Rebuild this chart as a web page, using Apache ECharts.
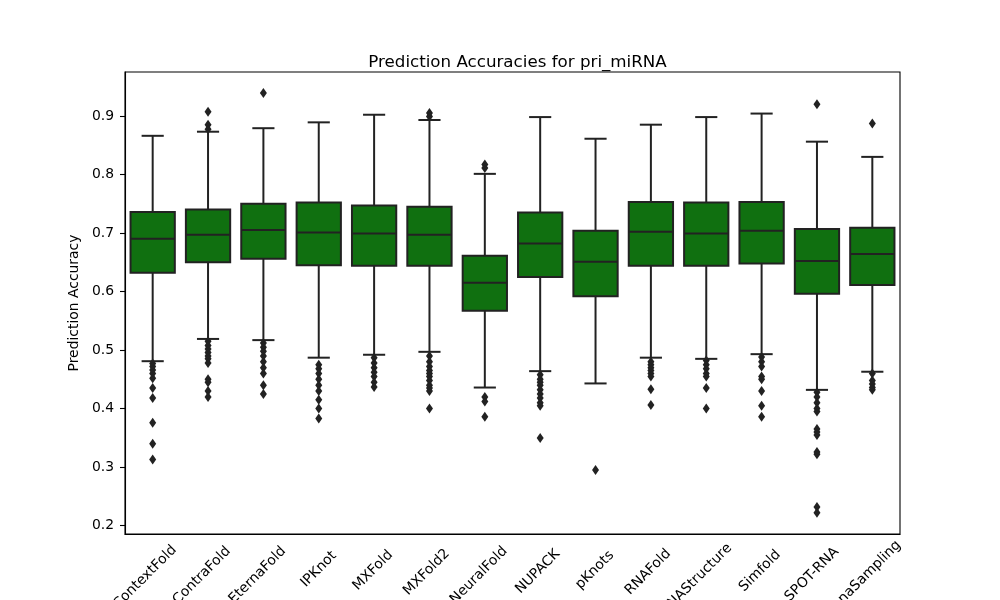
<!DOCTYPE html>
<html lang="en">
<head>
<meta charset="UTF-8">
<title>Prediction Accuracies for pri_miRNA</title>
</head>
<body style="height: 100%; margin: 0">
<div id="container" style="width:1000px;height:600px"></div>
<script src="https://cdn.jsdelivr.net/npm/echarts@6/dist/echarts.min.js"></script>
<script type="text/javascript">
    // data
    var categories = ['ContextFold', 'ContraFold', 'EternaFold', 'IPKnot', 'MXFold', 'MXFold2', 'NeuralFold',
        'NUPACK', 'pKnots', 'RNAFold', 'RNAStructure', 'Simfold', 'SPOT-RNA', 'ViennaSampling'];
    var whiskerLow  = [0.481, 0.519, 0.517, 0.487, 0.492, 0.497, 0.436, 0.464, 0.443, 0.487, 0.485, 0.493, 0.432, 0.463];
    var q1          = [0.632, 0.650, 0.656, 0.645, 0.644, 0.644, 0.567, 0.625, 0.592, 0.644, 0.644, 0.648, 0.596, 0.611];
    var median      = [0.690, 0.697, 0.705, 0.701, 0.699, 0.697, 0.615, 0.682, 0.651, 0.702, 0.699, 0.704, 0.652, 0.664];
    var q3          = [0.736, 0.740, 0.750, 0.752, 0.747, 0.745, 0.661, 0.735, 0.704, 0.753, 0.752, 0.753, 0.707, 0.709];
    var whiskerHigh = [0.866, 0.873, 0.879, 0.889, 0.902, 0.893, 0.801, 0.898, 0.861, 0.885, 0.898, 0.904, 0.856, 0.830];
    var outliers = [
        [0.477, 0.472, 0.466, 0.46, 0.452, 0.435, 0.418, 0.376, 0.34, 0.313],
        [0.907, 0.885, 0.877, 0.515, 0.508, 0.502, 0.496, 0.49, 0.485, 0.478, 0.45, 0.445, 0.43, 0.42],
        [0.939, 0.512, 0.505, 0.498, 0.49, 0.48, 0.47, 0.46, 0.44, 0.425],
        [0.475, 0.468, 0.46, 0.45, 0.44, 0.43, 0.415, 0.40, 0.383],
        [0.487, 0.478, 0.47, 0.462, 0.455, 0.445, 0.437],
        [0.905, 0.899, 0.49, 0.48, 0.472, 0.465, 0.46, 0.455, 0.448, 0.44, 0.435, 0.43, 0.4],
        [0.817, 0.811, 0.42, 0.412, 0.386],
        [0.458, 0.45, 0.445, 0.44, 0.432, 0.425, 0.418, 0.41, 0.405, 0.35],
        [0.295],
        [0.48, 0.475, 0.47, 0.465, 0.46, 0.455, 0.433, 0.406],
        [0.482, 0.475, 0.468, 0.46, 0.455, 0.435, 0.40],
        [0.488, 0.48, 0.472, 0.455, 0.45, 0.43, 0.405, 0.386],
        [0.92, 0.428, 0.42, 0.41, 0.40, 0.395, 0.365, 0.36, 0.355, 0.326, 0.322, 0.232, 0.222],
        [0.887, 0.46, 0.448, 0.442, 0.436, 0.432]
    ];
    var yTicks = [0.2, 0.3, 0.4, 0.5, 0.6, 0.7, 0.8, 0.9];

    var font = 'DejaVu Sans';
    var fs = 13.9;

    // matplotlib centres rotated tick labels on the tick with their tops aligned;
    // shift each label down with padding so the tops line up the same way
    var ctx = document.createElement('canvas').getContext('2d');
    ctx.font = fs + 'px "' + font + '"';
    var widths = categories.map(function (c) { return ctx.measureText(c).width; });
    var minW = Math.min.apply(null, widths);
    var labelMargin = 14 + (minW + 16) * 0.354;
    var xData = categories.map(function (c, i) {
        var p = (widths[i] - minW) * 0.56;
        return {
            value: c,
            textStyle: {
                align: 'center', verticalAlign: 'middle', padding: [p, p, 0, 0],
                color: '#000', fontSize: fs, fontFamily: font
            }
        };
    });

    var boxData = categories.map(function (c, i) {
        return [i, whiskerLow[i], q1[i], median[i], q3[i], whiskerHigh[i]];
    });
    var flierData = [];
    outliers.forEach(function (list, i) {
        list.forEach(function (v) { flierData.push([i, v]); });
    });

    var lineColor = '#222222';
    var boxColor = '#107010';

    function renderBox(params, api) {
        var i = api.value(0);
        var bw = api.size([1, 0])[0];
        var half = bw * 0.4, capHalf = bw * 0.2;
        var lo = api.coord([i, api.value(1)]);
        var b1 = api.coord([i, api.value(2)]);
        var md = api.coord([i, api.value(3)]);
        var b3 = api.coord([i, api.value(4)]);
        var hi = api.coord([i, api.value(5)]);
        var x = md[0];
        var st = { stroke: lineColor, lineWidth: 2, fill: null };
        return {
            type: 'group',
            children: [
                { type: 'line', shape: { x1: x, y1: hi[1], x2: x, y2: b3[1] }, style: st },
                { type: 'line', shape: { x1: x, y1: b1[1], x2: x, y2: lo[1] }, style: st },
                { type: 'line', shape: { x1: x - capHalf, y1: hi[1], x2: x + capHalf, y2: hi[1] }, style: st },
                { type: 'line', shape: { x1: x - capHalf, y1: lo[1], x2: x + capHalf, y2: lo[1] }, style: st },
                { type: 'rect', shape: { x: x - half, y: b3[1], width: half * 2, height: b1[1] - b3[1] },
                    style: { fill: boxColor, stroke: lineColor, lineWidth: 2 } },
                { type: 'line', shape: { x1: x - half, y1: md[1], x2: x + half, y2: md[1] }, style: st }
            ]
        };
    }

    var myChart = echarts.init(document.getElementById('container'));
    var option = {
        backgroundColor: '#ffffff',
        animation: false,
        textStyle: { fontFamily: font },
        title: {
            text: 'Prediction Accuracies for pri_miRNA',
            left: 512.5,
            top: 49,
            textAlign: 'center',
            textStyle: { fontSize: 16.7, fontWeight: 'normal', color: '#000', fontFamily: font }
        },
        grid: {
            left: 125, right: 100, top: 72, bottom: 66,
            containLabel: false, outerBoundsMode: 'none',
            show: true, borderColor: '#000', borderWidth: 1.1, backgroundColor: 'transparent'
        },
        xAxis: {
            type: 'category',
            data: xData,
            boundaryGap: true,
            axisLine: { lineStyle: { color: '#000', width: 1.1 } },
            axisTick: { alignWithLabel: true, length: 5, lineStyle: { color: '#000', width: 1.1 } },
            axisLabel: {
                interval: 0, rotate: 45, align: 'center', verticalAlign: 'middle',
                margin: labelMargin, color: '#000', fontSize: fs, fontFamily: font
            },
            splitLine: { show: false }
        },
        yAxis: {
            type: 'value',
            min: 0.1858,
            max: 0.975,
            name: 'Prediction Accuracy',
            nameLocation: 'middle',
            nameRotate: 90,
            nameGap: 38,
            nameTextStyle: { color: '#000', fontSize: fs, fontFamily: font },
            axisLine: { show: true, lineStyle: { color: '#000', width: 1.1 } },
            axisTick: { show: true, length: 5, customValues: yTicks, lineStyle: { color: '#000', width: 1.1 } },
            axisLabel: {
                customValues: yTicks, margin: 11, color: '#000', fontSize: fs, fontFamily: font,
                formatter: function (v) { return v.toFixed(1); }
            },
            splitLine: { show: false }
        },
        series: [
            {
                type: 'custom',
                renderItem: renderBox,
                encode: { x: 0, y: [1, 2, 3, 4, 5] },
                data: boxData,
                z: 2
            },
            {
                type: 'scatter',
                symbol: 'diamond',
                symbolSize: [7, 10],
                itemStyle: { color: lineColor, opacity: 1 },
                data: flierData,
                z: 3
            }
        ]
    };
    myChart.setOption(option);
</script>
</body>
</html>
